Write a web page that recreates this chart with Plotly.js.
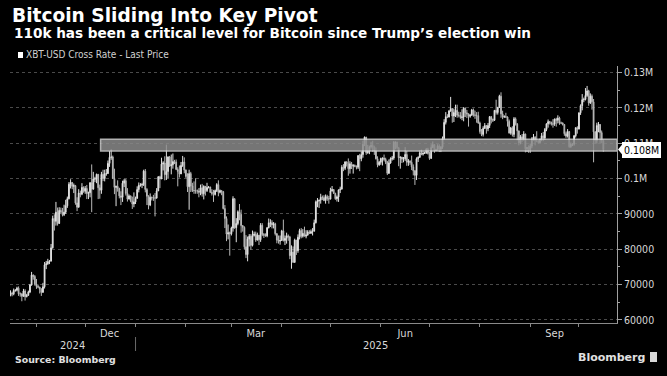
<!DOCTYPE html>
<html>
<head>
<meta charset="utf-8">
<script src="https://cdn.plot.ly/plotly-3.0.1.min.js"></script>
<style>
html,body{margin:0;padding:0;background:#000;}
#chart{width:667px;height:376px;}
</style>
</head>
<body>
<div id="chart"></div>
<script>
// ---- DATA (XBT-USD daily, thousands of USD), first day 2024-10-16 ----
const startDate = [2024, 9, 16];
const firstOpen = 67.0;
const close = [
  // Oct 2024 (16-31)
  67.6, 67.4, 68.4, 68.4, 69.0, 67.4, 67.4, 66.7, 68.2, 66.6, 67.0, 67.9, 69.9, 72.7, 72.3, 70.2,
  // Nov 2024
  69.5, 69.3, 68.7, 67.8, 69.4, 75.6, 75.9, 76.5, 76.7, 80.4, 88.7, 87.9, 90.5, 87.3, 91.0, 90.6, 89.8, 90.5, 92.3, 94.3, 98.4, 98.9, 97.8, 98.0, 93.1, 91.9, 95.9, 95.6, 97.5, 96.4,
  // Dec 2024
  97.2, 95.8, 96.0, 98.8, 97.0, 99.9, 99.9, 101.2, 97.4, 96.7, 101.2, 100.0, 101.4, 101.4, 104.3, 106.0, 106.1, 100.0, 97.5, 97.8, 97.2, 95.1, 94.7, 98.7, 99.4, 95.8, 94.2, 95.1, 93.7, 92.8, 93.4,
  // Jan 2025
  94.4, 96.9, 98.1, 98.2, 98.3, 102.1, 96.9, 95.0, 92.5, 94.7, 94.5, 94.5, 94.5, 96.5, 100.5, 99.9, 104.1, 104.4, 101.1, 102.0, 106.1, 103.6, 103.9, 104.8, 104.7, 102.6, 102.0, 101.3, 103.7, 104.7, 102.4,
  // Feb 2025
  100.6, 97.7, 101.4, 97.9, 96.6, 96.6, 96.5, 96.5, 96.1, 97.4, 95.7, 97.8, 96.6, 97.5, 97.6, 96.1, 95.8, 95.5, 96.6, 98.3, 96.1, 96.6, 96.3, 91.5, 88.7, 84.3, 84.7, 84.4,
  // Mar 2025
  86.0, 94.3, 86.1, 87.3, 90.6, 89.9, 86.7, 86.2, 80.7, 78.5, 82.9, 83.7, 81.1, 83.9, 84.3, 82.6, 84.0, 82.7, 86.8, 84.2, 84.0, 83.8, 86.1, 87.5, 87.5, 86.9, 87.2, 84.4, 82.6, 82.3, 82.5,
  // Apr 2025
  85.2, 82.5, 83.1, 83.8, 83.5, 78.2, 79.2, 76.3, 82.6, 79.6, 83.4, 85.3, 83.7, 84.5, 83.7, 84.0, 84.9, 84.5, 85.0, 85.1, 87.5, 93.4, 93.7, 93.9, 94.7, 94.6, 93.8, 94.9, 94.3, 94.2,
  // May 2025
  96.5, 96.9, 95.8, 94.3, 94.8, 96.8, 97.0, 103.2, 102.9, 104.7, 104.2, 102.8, 104.2, 103.5, 103.7, 103.5, 103.2, 106.5, 105.6, 106.8, 109.7, 111.7, 107.3, 107.8, 109.0, 109.4, 108.9, 107.8, 105.6, 103.9, 104.6,
  // Jun 2025
  105.7, 105.8, 105.4, 104.7, 101.5, 104.4, 105.6, 105.8, 110.3, 110.3, 108.7, 105.9, 106.1, 105.5, 105.6, 106.8, 104.6, 104.9, 104.6, 103.3, 102.2, 100.9, 105.6, 106.0, 107.3, 106.9, 107.1, 107.3, 108.4, 107.1,
  // Jul 2025
  105.7, 108.8, 109.6, 107.9, 108.2, 109.2, 108.3, 108.9, 111.3, 115.9, 117.5, 117.4, 119.1, 119.8, 117.7, 118.7, 119.3, 117.9, 117.9, 117.3, 117.4, 119.9, 118.6, 118.3, 117.6, 117.9, 119.4, 118.0, 117.9, 117.8, 115.7,
  // Aug 2025
  113.3, 112.5, 114.2, 115.0, 114.1, 115.0, 117.5, 116.7, 116.5, 119.3, 118.7, 120.1, 123.3, 118.3, 117.4, 117.5, 117.4, 116.2, 112.9, 114.3, 112.5, 116.9, 115.4, 113.5, 110.1, 111.8, 111.2, 112.6, 108.4, 108.8, 108.2,
  // Sep 2025
  109.2, 111.2, 111.7, 110.7, 110.7, 110.2, 111.1, 112.1, 111.5, 113.9, 115.5, 116.1, 115.9, 115.4, 115.4, 116.8, 116.5, 117.1, 115.7, 115.7, 115.3, 112.7, 112.0, 113.3, 109.0, 109.7, 109.7, 112.1, 114.4, 114.0,
  // Oct 2025 (1-16)
  118.6, 120.6, 122.3, 122.4, 123.5, 124.8, 121.4, 123.3, 121.7, 113.2, 110.7, 115.0, 115.3, 113.0, 110.7, 108.2
];
const high = [
  68.4, 68.0, 68.9, 68.7, 69.4, 69.5, 67.8, 67.5, 68.8, 68.7, 67.4, 68.3, 70.2, 73.6, 72.9, 72.7,
  71.6, 70.0, 69.4, 69.0, 70.5, 76.4, 76.7, 77.3, 76.9, 81.5, 89.5, 89.9, 93.4, 91.8, 91.9, 91.8, 91.7, 92.6, 94.0, 94.9, 99.0, 99.8, 98.8, 98.6, 98.2, 94.7, 97.0, 96.6, 98.7, 97.8,
  97.9, 98.2, 96.3, 99.0, 104.0, 101.9, 100.5, 101.4, 101.3, 98.3, 101.9, 102.5, 102.5, 102.7, 105.1, 107.8, 108.3, 106.5, 102.8, 98.0, 99.5, 97.4, 96.4, 99.4, 99.9, 99.9, 97.3, 95.5, 95.2, 94.9, 96.1,
  94.9, 97.8, 98.9, 98.7, 98.8, 102.5, 102.7, 97.3, 95.3, 95.8, 94.9, 95.4, 95.9, 97.3, 100.7, 100.8, 105.9, 104.9, 106.3, 109.6, 106.3, 106.4, 106.8, 107.1, 105.3, 105.4, 103.2, 103.7, 104.7, 106.4, 106.0,
  102.6, 101.5, 102.5, 101.9, 98.8, 99.2, 100.1, 96.9, 97.3, 98.3, 98.5, 98.1, 97.3, 98.8, 97.9, 97.7, 97.0, 96.8, 96.9, 98.7, 99.5, 96.9, 96.6, 96.5, 92.5, 89.3, 87.0, 85.0,
  86.4, 95.0, 94.4, 88.8, 91.0, 92.8, 91.2, 86.8, 86.5, 84.0, 83.6, 84.3, 84.3, 85.3, 85.0, 85.0, 84.7, 84.0, 87.4, 87.4, 84.6, 84.5, 86.3, 88.7, 88.5, 88.2, 87.7, 87.5, 84.6, 83.9, 83.9,
  85.5, 88.4, 83.9, 84.7, 84.2, 83.8, 81.1, 80.8, 83.0, 82.6, 84.2, 85.8, 86.0, 85.7, 86.4, 85.4, 85.4, 85.4, 85.6, 86.0, 88.4, 93.8, 94.5, 94.0, 95.7, 95.2, 95.3, 95.5, 95.4, 95.1,
  97.4, 97.9, 96.9, 96.0, 95.2, 96.9, 97.7, 103.8, 104.1, 104.9, 104.9, 105.7, 104.9, 104.7, 104.1, 104.0, 103.7, 106.6, 107.0, 107.7, 110.7, 111.9, 111.8, 109.5, 109.3, 110.4, 110.7, 109.3, 108.8, 106.3, 105.0,
  105.9, 105.9, 106.8, 105.9, 105.0, 105.4, 106.0, 106.4, 110.6, 110.4, 110.4, 108.9, 106.2, 106.1, 106.1, 108.9, 107.8, 105.5, 105.2, 106.5, 104.0, 102.4, 106.0, 106.3, 108.0, 108.2, 107.7, 107.6, 108.5, 108.7,
  107.5, 109.7, 110.5, 109.7, 108.4, 109.7, 109.7, 109.2, 111.9, 116.8, 118.8, 118.2, 119.4, 123.1, 119.9, 119.8, 120.9, 120.9, 118.9, 118.8, 119.6, 120.2, 120.1, 119.4, 118.4, 118.3, 119.7, 119.8, 119.2, 118.8, 118.9,
  116.1, 114.0, 114.8, 115.7, 115.1, 115.7, 117.7, 117.7, 117.0, 119.3, 122.3, 120.3, 123.7, 124.4, 119.2, 117.9, 118.6, 117.6, 116.7, 114.6, 114.8, 117.4, 117.3, 115.7, 113.5, 112.3, 112.6, 113.4, 112.7, 108.9, 109.4,
  109.9, 111.7, 112.6, 112.0, 113.4, 110.9, 111.3, 112.9, 113.2, 114.3, 115.6, 116.7, 116.3, 116.1, 116.8, 117.0, 117.2, 117.9, 117.5, 116.1, 115.9, 115.4, 113.3, 114.0, 113.4, 110.2, 110.0, 112.3, 114.5, 114.8,
  118.7, 121.0, 123.9, 122.9, 125.6, 126.2, 125.1, 124.1, 123.8, 122.5, 113.4, 115.8, 116.0, 115.4, 113.6, 111.0
];
const low = [
  66.7, 66.7, 67.0, 68.0, 68.1, 66.8, 66.6, 65.3, 66.6, 65.5, 66.4, 66.8, 67.6, 69.7, 71.4, 69.7,
  68.8, 69.0, 67.5, 66.8, 67.8, 68.9, 74.4, 75.6, 75.8, 76.5, 80.2, 85.3, 86.7, 86.7, 87.2, 90.1, 89.3, 89.4, 90.0, 91.7, 94.1, 97.2, 97.0, 95.9, 92.6, 90.8, 91.8, 94.7, 95.3, 96.0,
  95.7, 94.2, 94.2, 94.7, 90.5, 96.9, 99.0, 98.7, 94.2, 94.3, 95.7, 99.3, 99.2, 100.8, 101.3, 103.3, 105.3, 100.0, 95.6, 92.2, 96.3, 94.4, 92.5, 93.4, 97.6, 95.2, 93.5, 94.1, 93.3, 91.4, 91.9,
  92.8, 94.3, 96.1, 97.7, 97.3, 97.9, 96.1, 92.5, 91.3, 92.2, 93.8, 93.7, 89.3, 94.3, 96.5, 97.3, 99.9, 102.3, 99.5, 99.6, 100.1, 103.3, 101.2, 102.8, 104.1, 102.4, 97.8, 100.3, 101.3, 103.3, 101.5,
  100.2, 96.2, 91.2, 96.2, 96.2, 95.7, 95.7, 95.7, 94.7, 95.3, 94.9, 94.1, 95.2, 96.2, 97.2, 95.9, 95.2, 93.4, 95.2, 96.2, 95.0, 95.8, 95.3, 91.3, 86.0, 82.3, 82.8, 78.2,
  83.9, 85.0, 85.8, 82.0, 86.8, 88.2, 84.7, 85.0, 80.0, 77.5, 76.6, 80.8, 79.9, 80.8, 83.6, 82.1, 82.5, 81.2, 82.1, 83.7, 83.2, 83.6, 83.4, 85.9, 86.3, 85.9, 85.9, 83.9, 81.7, 81.6, 81.3,
  82.4, 82.2, 81.2, 81.6, 82.4, 77.2, 74.5, 76.2, 76.2, 78.4, 79.0, 82.8, 83.1, 83.3, 83.7, 83.1, 83.9, 84.3, 84.4, 83.9, 85.1, 87.3, 91.9, 91.7, 92.9, 93.9, 93.6, 92.9, 93.7, 92.9,
  94.1, 96.3, 95.7, 94.0, 93.5, 93.4, 95.9, 97.0, 102.1, 102.4, 103.4, 100.8, 101.4, 102.7, 101.4, 103.2, 102.6, 102.7, 102.1, 104.9, 105.9, 109.2, 106.7, 107.0, 106.9, 108.5, 107.6, 106.7, 105.4, 103.2, 103.6,
  103.9, 103.7, 104.9, 104.1, 101.0, 101.3, 104.2, 105.1, 105.3, 108.3, 108.3, 103.5, 102.8, 104.4, 104.6, 105.0, 103.6, 103.6, 103.9, 102.4, 100.9, 98.2, 99.6, 104.7, 105.9, 106.6, 106.5, 107.0, 107.0, 106.8,
  105.3, 105.6, 108.6, 107.3, 107.8, 107.9, 107.5, 107.5, 108.4, 111.0, 115.3, 117.1, 117.3, 118.9, 115.8, 116.0, 117.4, 117.2, 117.3, 116.9, 116.5, 116.2, 117.4, 117.1, 114.7, 117.2, 117.8, 117.5, 116.9, 115.8, 115.5,
  112.7, 112.0, 111.9, 114.0, 112.7, 113.4, 114.3, 115.6, 116.0, 116.3, 118.1, 118.1, 120.0, 117.2, 116.8, 117.2, 117.2, 114.7, 112.7, 112.4, 111.9, 111.7, 115.0, 110.8, 109.4, 109.7, 110.4, 110.7, 107.4, 107.5, 107.3,
  107.3, 108.6, 110.7, 109.4, 110.3, 109.9, 110.0, 110.6, 110.6, 110.9, 113.4, 114.4, 115.3, 115.0, 114.4, 114.9, 114.7, 115.6, 115.2, 115.4, 115.0, 112.1, 111.5, 111.6, 108.7, 108.7, 109.2, 109.3, 111.6, 112.7,
  113.9, 118.0, 119.3, 121.6, 122.1, 123.1, 120.6, 121.1, 119.5, 104.6, 109.8, 109.9, 113.1, 110.0, 110.0, 107.6
];
const pivotBand = [107800, 111100];
const pivotStart = '2024-12-10 12:00';
const yTickVals = [60000, 70000, 80000, 90000, 100000, 110000, 120000, 130000];
const yTickText = ['60000', '70000', '80000', '90000', '0.1M', '0.11M', '0.12M', '0.13M'];
const monthLabelDates = ['2024-12-16', '2025-03-16', '2025-06-16', '2025-09-16'];
const monthLabels = ['Dec', 'Mar', 'Jun', 'Sep'];
const yearLabelDates = ['2024-11-23', '2025-05-29'];
const yearLabels = ['2024', '2025'];
const yearBoundary = '2025-01-01';
const lastLabel = '0.108M';

// ---- build series ----
const dates = [], o = [], h = [], l = [], c = [];
for (let i = 0; i < close.length; i++) {
  const d = new Date(Date.UTC(startDate[0], startDate[1], startDate[2] + i));
  dates.push(d.toISOString().slice(0, 10));
  o.push((i === 0 ? firstOpen : close[i - 1]) * 1000);
  h.push(high[i] * 1000);
  l.push(low[i] * 1000);
  c.push(close[i] * 1000);
}
const lastClose = c[c.length - 1];

const xRange = ['2024-10-15 17:00', '2025-10-24 10:00'];
const condensed = 'DejaVu Sans Condensed, DejaVu Sans, sans-serif';
const bold = 'DejaVu Sans, sans-serif';

const trace = {
  type: 'candlestick', x: dates, open: o, high: h, low: l, close: c,
  increasing: {line: {color: '#e2e2e2', width: 1}, fillcolor: '#e2e2e2'},
  decreasing: {line: {color: '#b8b8b8', width: 1}, fillcolor: '#b8b8b8'},
  whiskerwidth: 0, hoverinfo: 'skip', showlegend: false, name: 'XBT-USD Cross Rate - Last Price'
};

const W = 607, H = 257; // plot size in px for paper conversions
const px = v => (v - 10) / W;
const py = v => (323 - v) / H;

const layout = {
  width: 667, height: 376,
  paper_bgcolor: '#000', plot_bgcolor: '#000',
  margin: {l: 10, r: 50, t: 66, b: 53},
  showlegend: false,
  title: {
    text: 'Bitcoin Sliding Into Key Pivot',
    font: {family: bold, size: 18.6, color: '#ffffff', weight: 'bold'},
    xref: 'container', x: 12 / 667, xanchor: 'left',
    yref: 'container', y: 1 - 15 / 376, yanchor: 'middle'
  },
  xaxis: {
    type: 'date', range: xRange, rangeslider: {visible: false},
    tickmode: 'array', tickvals: monthLabelDates, ticktext: monthLabels,
    ticks: '', showgrid: false, zeroline: false,
    showline: true, linecolor: '#8a8a8a', linewidth: 1,
    tickfont: {family: condensed, size: 11, color: '#d8d8d8'},
    minor: {dtick: 'M1', tick0: '2024-11-01', ticks: 'outside', ticklen: 3, tickcolor: '#8a8a8a', showgrid: false},
    fixedrange: true
  },
  xaxis2: {
    type: 'date', overlaying: 'x', matches: 'x', anchor: 'y', side: 'bottom',
    dtick: 'M3', tick0: '2025-01-01', showgrid: true, gridcolor: '#4a4a4a', griddash: 'dot', gridwidth: 1,
    showticklabels: false, ticks: '', showline: false, zeroline: false
  },
  yaxis: {
    side: 'right', range: [59150, 131840],
    tickmode: 'array', tickvals: yTickVals, ticktext: yTickText,
    ticks: 'outside', ticklen: 4, tickcolor: '#a0a0a0',
    showgrid: true, gridcolor: '#4a4a4a', griddash: 'dot', gridwidth: 1,
    showline: true, linecolor: '#a0a0a0', linewidth: 1, zeroline: false,
    tickfont: {family: condensed, size: 10.5, color: '#d8d8d8'},
    minor: {dtick: 5000, tick0: 0, ticks: 'outside', ticklen: 2, tickcolor: '#a0a0a0', showgrid: false},
    fixedrange: true
  },
  shapes: [
    {type: 'rect', xref: 'x', yref: 'y', x0: pivotStart, x1: xRange[1], y0: pivotBand[0], y1: pivotBand[1],
     fillcolor: '#8a8a8a', opacity: 0.85, line: {color: '#d0d0d0', width: 1.5}, layer: 'above'},
    {type: 'line', xref: 'x', yref: 'paper', x0: yearBoundary, x1: yearBoundary, y0: py(337), y1: py(351),
     line: {color: '#6a6a6a', width: 1}},
    {type: 'rect', xref: 'paper', yref: 'paper', x0: px(18), x1: px(23), y0: py(58), y1: py(52),
     fillcolor: '#ffffff', line: {width: 0}},
    {type: 'path', xref: 'paper', yref: 'y', xsizemode: 'pixel', ysizemode: 'pixel', xanchor: 1, yanchor: lastClose,
     path: 'M 1 0 L 6 6 L 6 -6 Z', fillcolor: '#ffffff', line: {width: 0}},
    {type: 'rect', xref: 'paper', yref: 'paper', x0: px(650), x1: px(657), y0: py(362), y1: py(352),
     fillcolor: '#d8d8d8', line: {width: 0}}
  ],
  annotations: [
    {xref: 'paper', yref: 'paper', x: px(12), y: py(33), xanchor: 'left', yanchor: 'middle', showarrow: false,
     text: '110k has been a critical level for Bitcoin since Trump\u2019s election win',
     font: {family: bold, size: 13.6, color: '#ffffff', weight: 'bold'}},
    {xref: 'paper', yref: 'paper', x: px(24), y: py(55), xanchor: 'left', yanchor: 'middle', showarrow: false,
     text: 'XBT-USD Cross Rate - Last Price', font: {family: condensed, size: 10, color: '#d0d0d0'}},
    {xref: 'paper', yref: 'paper', x: px(13), y: py(359), xanchor: 'left', yanchor: 'middle', showarrow: false,
     text: 'Source: Bloomberg', font: {family: bold, size: 9.4, color: '#e0e0e0', weight: 'bold'}},
    {xref: 'paper', yref: 'paper', x: px(647), y: py(357), xanchor: 'right', yanchor: 'middle', showarrow: false,
     text: 'Bloomberg', font: {family: bold, size: 11, color: '#e0e0e0', weight: 'bold'}},
    {xref: 'x', yref: 'paper', x: yearLabelDates[0], y: py(345), xanchor: 'center', yanchor: 'middle', showarrow: false,
     text: yearLabels[0], font: {family: condensed, size: 11, color: '#d8d8d8'}},
    {xref: 'x', yref: 'paper', x: yearLabelDates[1], y: py(345), xanchor: 'center', yanchor: 'middle', showarrow: false,
     text: yearLabels[1], font: {family: condensed, size: 11, color: '#d8d8d8'}},
    {xref: 'paper', yref: 'y', x: 1, xshift: 5, y: lastClose, xanchor: 'left', yanchor: 'middle', showarrow: false,
     text: lastLabel, bgcolor: '#ffffff', bordercolor: '#ffffff', borderpad: 1,
     font: {family: condensed, size: 10.5, color: '#000000'}}
  ]
};

Plotly.newPlot('chart', [trace], layout, {staticPlot: true, displayModeBar: false});
</script>
</body>
</html>
